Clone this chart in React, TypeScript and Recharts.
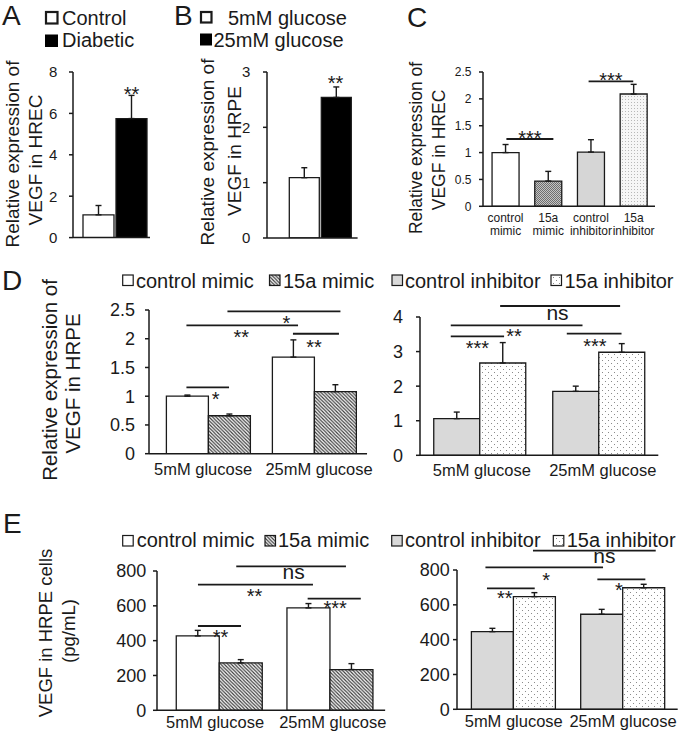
import { Bar, BarChart, Cell, ErrorBar, ReferenceLine, XAxis, YAxis } from "recharts";

const FONT = "'Liberation Sans', Arial, Helvetica, sans-serif";
const INK = "#1a1a1a";

// A: retina, control vs diabetic
const aSeries = ["Control", "Diabetic"];
const aValues = [1.1, 5.75];
const aErrors = [0.45, 1.12];
const aTicks = [0, 2, 4, 6, 8];

// B: HRPE under glucose
const bSeries = ["5mM glucose", "25mM glucose"];
const bValues = [1.09, 2.54];
const bErrors = [0.18, 0.19];
const bTicks = [0, 1, 2, 3];

// C: HREC transfection
const groupNames = ["control mimic", "15a mimic", "control inhibitor", "15a inhibitor"];
const cValues = [1.0, 0.47, 1.01, 2.09];
const cErrors = [0.15, 0.18, 0.23, 0.18];
const cTicks = [0, 0.5, 1, 1.5, 2, 2.5];

// D / E: glucose groups
const glucoseCats = ["5mM glucose", "25mM glucose"];
const dControlMimic = [1.0, 1.68];
const dControlMimicErr = [0.02, 0.3];
const d15aMimic = [0.66, 1.08];
const d15aMimicErr = [0.03, 0.12];
const dControlInh = [1.06, 1.85];
const dControlInhErr = [0.19, 0.15];
const d15aInh = [2.67, 2.98];
const d15aInhErr = [0.59, 0.25];
const dLeftTicks = [0, 0.5, 1, 1.5, 2, 2.5];
const dRightTicks = [0, 1, 2, 3, 4];

const eControlMimic = [427, 588];
const eControlMimicErr = [32, 25];
const e15aMimic = [272, 234];
const e15aMimicErr = [19, 34];
const eControlInh = [446, 546];
const eControlInhErr = [19, 28];
const e15aInh = [647, 698];
const e15aInhErr = [23, 20];
const eTicks = [0, 200, 400, 600, 800];

// significance marks: x in category-band units (0 = left edge of first group), y in data units
type Bracket = { x1: number; x2: number; y: number; text: string; dx: number; dy: number };

const aMarks: Bracket[] = [{ x1: 0.736, x2: 0.736, y: 7.16, text: "**", dx: 0, dy: 0 }];
const bMarks: Bracket[] = [{ x1: 0.703, x2: 0.703, y: 2.89, text: "**", dx: 0, dy: 0 }];
const cMarks: Bracket[] = [
  { x1: 0.52, x2: 1.62, y: 1.253, text: "***", dx: 0, dy: -6 },
  { x1: 2.445, x2: 3.49, y: 2.327, text: "***", dx: 0, dy: -6 }
];
const dLeftMarks: Bracket[] = [
  { x1: 0.296, x2: 0.698, y: 1.153, text: "*", dx: 8, dy: 7.3 },
  { x1: 0.296, x2: 1.349, y: 2.231, text: "**", dx: -1, dy: 7.3 },
  { x1: 0.683, x2: 1.749, y: 2.475, text: "*", dx: 2.5, dy: 7.3 },
  { x1: 1.301, x2: 1.735, y: 2.087, text: "**", dx: -2, dy: 8.3 }
];
const dRightMarks: Bracket[] = [
  { x1: 0.256, x2: 0.704, y: 3.442, text: "***", dx: 0, dy: 7.3 },
  { x1: 0.256, x2: 1.363, y: 3.76, text: "**", dx: -2.5, dy: 6 },
  { x1: 0.671, x2: 1.679, y: 4.318, text: "ns", dx: -2.6, dy: 8.3 },
  { x1: 1.231, x2: 1.691, y: 3.52, text: "***", dx: 0.7, dy: 7.7 }
];
const eLeftMarks: Bracket[] = [
  { x1: 0.309, x2: 0.698, y: 484, text: "**", dx: 1, dy: 6 },
  { x1: 0.309, x2: 1.348, y: 722, text: "**", dx: -1, dy: 6.7 },
  { x1: 0.655, x2: 1.646, y: 827, text: "ns", dx: 2.5, dy: 7.3 },
  { x1: 1.3, x2: 1.78, y: 641.5, text: "***", dx: 1, dy: 5 }
];
const eRightMarks: Bracket[] = [
  { x1: 0.255, x2: 0.692, y: 695, text: "**", dx: -6, dy: 5 },
  { x1: 0.241, x2: 1.317, y: 815.5, text: "*", dx: 2, dy: 7.7 },
  { x1: 0.676, x2: 1.799, y: 911, text: "ns", dx: 10, dy: 7.2 },
  { x1: 1.265, x2: 1.704, y: 746.6, text: "*", dx: -2.4, dy: 5.7 }
];

const mimicFills = ["#ffffff", "url(#hatch)"];
const inhFills = ["#d9d9d9", "url(#dots)"];
const cFills = ["#ffffff", "url(#hatchC)", "#d6d6d6", "url(#dotsC)"];

type PanelProps = {
  categories: string[];
  values: number[][];
  errors: number[][];
  fills: string[];
  cellFills?: string[];
  axisX: number;
  plotW: number;
  padL: number;
  yTop: number;
  yZero: number;
  ticks: number[];
  tickFont: number;
  tickGap: number;
  catGap: number | string;
  barGap: number;
  xFont?: number;
  xOffsets?: number[];
  xShift?: number[];
  wrap?: boolean;
  marks: Bracket[];
};

function Panel(p: PanelProps) {
  const rows = p.categories.map((c, i) => {
    const r: Record<string, unknown> = { cat: c };
    p.values.forEach((vals, s) => {
      r[`v${s}`] = vals[i];
      r[`e${s}`] = [0, p.errors[s][i]];
    });
    return r;
  });
  const top = 45;
  const bottom = 45;
  const yw = 50;
  const right = 14;
  const width = yw + p.plotW + right;
  const height = top + (p.yZero - p.yTop) + bottom;
  const band = (p.plotW - p.padL) / p.categories.length;

  const tick = p.xFont
    ? (t: any) => {
        const label = String(t.payload.value);
        const sp = label.indexOf(" ");
        const lines = p.wrap ? [label.slice(0, sp), label.slice(sp + 1)] : [label];
        const shift = p.xShift ? p.xShift[t.index] ?? 0 : 0;
        return (
          <text textAnchor="middle" fontSize={p.xFont} fontFamily={FONT} fill={INK}>
            {lines.map((l, i) => (
              <tspan key={i} x={t.x + shift} y={t.y + (p.xOffsets as number[])[i]}>
                {l}
              </tspan>
            ))}
          </text>
        );
      }
    : false;

  return (
    <div style={{ position: "absolute", left: p.axisX - yw, top: p.yTop - top }}>
      <BarChart
        width={width}
        height={height}
        data={rows}
        margin={{ top, right, bottom: 0, left: 0 }}
        barCategoryGap={p.catGap}
        barGap={p.barGap}
      >
        <XAxis
          dataKey="cat"
          padding={{ left: p.padL, right: 0 }}
          tickLine={false}
          tickSize={0}
          tickMargin={0}
          interval={0}
          height={bottom}
          axisLine={{ stroke: INK, strokeWidth: 1.5 }}
          tick={tick}
        />
        <YAxis
          domain={[0, p.ticks[p.ticks.length - 1]]}
          ticks={p.ticks}
          interval={0}
          width={yw}
          tickSize={4}
          tickMargin={p.tickGap - 4}
          allowDataOverflow
          axisLine={{ stroke: INK, strokeWidth: 1.5 }}
          tickLine={{ stroke: INK, strokeWidth: 1.5 }}
          tick={{ fontSize: p.tickFont, fill: INK, fontFamily: FONT }}
        />
        {p.values.map((_, s) => (
          <Bar
            key={s}
            dataKey={`v${s}`}
            fill={p.fills[s]}
            stroke={INK}
            strokeWidth={1.3}
            isAnimationActive={false}
          >
            {p.cellFills && p.cellFills.map((f, i) => <Cell key={i} fill={f} />)}
            <ErrorBar dataKey={`e${s}`} width={3} stroke={INK} strokeWidth={1.4} direction="y" isAnimationActive={false} />
          </Bar>
        ))}
        {p.marks.map((b, i) => (
          <ReferenceLine
            key={i}
            ifOverflow="visible"
            position="middle"
            segment={[
              { x: p.categories[0], y: b.y },
              { x: p.categories[0], y: b.y }
            ]}
            shape={(lp: any) => {
              // lp.x1 is the centre of the first group, as placed by the category scale
              const start = lp.x1 - band / 2;
              const x1 = start + b.x1 * band;
              const x2 = start + b.x2 * band;
              const size = b.text === "ns" ? 21 : 20;
              const lift = b.text === "ns" ? 0.26 : 0.58;
              return (
                <g>
                  {x2 - x1 > 1 && <line x1={x1} y1={lp.y1} x2={x2} y2={lp.y1} stroke={INK} strokeWidth={1.8} />}
                  <text x={(x1 + x2) / 2 + b.dx} y={lp.y1 + b.dy + lift * size} textAnchor="middle" fontSize={size} fontFamily={FONT} fill={INK}>
                    {b.text}
                  </text>
                </g>
              );
            }}
          />
        ))}
      </BarChart>
    </div>
  );
}

function Patterns() {
  return (
    <svg width={0} height={0} style={{ position: "absolute" }}>
      <defs>
        <pattern id="hatch" width={3.5} height={3.5} patternUnits="userSpaceOnUse">
          <rect width={3.5} height={3.5} fill="#ffffff" />
          <path d="M-1,-1 L4.5,4.5 M2.5,-1 L4.5,1 M-1,2.5 L1,4.5" stroke="#3c3c3c" strokeWidth={1.2} />
        </pattern>
        <pattern id="dots" width={6} height={6} patternUnits="userSpaceOnUse">
          <rect width={6} height={6} fill="#ffffff" />
          <rect x={1} y={1} width={1} height={1} fill="#8a8a8a" />
          <rect x={4} y={4} width={1} height={1} fill="#8a8a8a" />
        </pattern>
        <pattern id="hatchC" width={2} height={2} patternUnits="userSpaceOnUse">
          <rect width={2} height={2} fill="#c4c4c4" />
          <rect width={1} height={1} fill="#6e6e6e" />
          <rect x={1} y={1} width={1} height={1} fill="#6e6e6e" />
        </pattern>
        <pattern id="dotsC" width={3} height={3} patternUnits="userSpaceOnUse">
          <rect width={3} height={3} fill="#f6f6f6" />
          <rect width={1} height={1} fill="#b8b8b8" />
        </pattern>
      </defs>
    </svg>
  );
}

function RotLabel({ x, y, size, text }: { x: number; y: number; size: number; text: string }) {
  return (
    <text x={x} y={y} transform={`rotate(-90 ${x} ${y})`} textAnchor="middle" fontSize={size} fontFamily={FONT} fill={INK}>
      {text}
    </text>
  );
}

function Legend4({ base, sqTop, xs, txs }: { base: number; sqTop: number; xs: number[]; txs: number[] }) {
  const fills = [...mimicFills, ...inhFills];
  return (
    <g>
      {groupNames.map((name, i) => (
        <g key={name}>
          <rect x={xs[i]} y={sqTop} width={10.5} height={10.5} fill={fills[i]} stroke={INK} strokeWidth={1.2} />
          <text x={txs[i]} y={base} fontSize={20} fontFamily={FONT} fill={INK}>
            {name}
          </text>
        </g>
      ))}
    </g>
  );
}

function Overlay() {
  const letter = (x: number, y: number, t: string) => (
    <text x={x} y={y} fontSize={28} fontFamily={FONT} fill={INK}>
      {t}
    </text>
  );
  return (
    <svg width={682} height={734} style={{ position: "absolute", left: 0, top: 0, pointerEvents: "none" }}>
      {letter(2, 25, "A")}
      {letter(174, 25, "B")}
      {letter(407, 27, "C")}
      {letter(2, 290, "D")}
      {letter(3, 533, "E")}

      <rect x={46} y={12} width={11.5} height={11.5} fill="#ffffff" stroke={INK} strokeWidth={2.2} />
      <text x={62} y={25} fontSize={20} fontFamily={FONT} fill={INK}>{aSeries[0]}</text>
      <rect x={45} y={34.5} width={13} height={12.5} fill="#000000" />
      <text x={62} y={46.7} fontSize={20} fontFamily={FONT} fill={INK}>{aSeries[1]}</text>

      <rect x={201} y={12} width={10.5} height={10.5} fill="#ffffff" stroke={INK} strokeWidth={2.2} />
      <text x={228} y={25} fontSize={20} fontFamily={FONT} fill={INK}>{bSeries[0]}</text>
      <rect x={200} y={33.5} width={12} height={12} fill="#000000" />
      <text x={213.5} y={46.7} fontSize={20} fontFamily={FONT} fill={INK}>{bSeries[1]}</text>

      <RotLabel x={19} y={154} size={19} text="Relative expression of" />
      <RotLabel x={42} y={160} size={19} text="VEGF in HREC" />
      <RotLabel x={214} y={152} size={19} text="Relative expression of" />
      <RotLabel x={241} y={151} size={19} text="VEGF in HRPE" />
      <RotLabel x={422.4} y={148} size={17.5} text="Relative expression of" />
      <RotLabel x={445} y={150} size={17.5} text="VEGF in HREC" />
      <RotLabel x={57} y={380} size={20.5} text="Relative expression of" />
      <RotLabel x={80} y={383.5} size={20.5} text="VEGF in HRPE" />
      <RotLabel x={51.5} y={633} size={18.5} text="VEGF in HRPE cells" />
      <RotLabel x={75} y={631} size={18.5} text="(pg/mL)" />

      <Legend4 base={288} sqTop={275} xs={[122.7, 269.5, 392, 551]} txs={[136, 283, 405, 564.5]} />
      <Legend4 base={546.5} sqTop={535.5} xs={[122.7, 265, 391.7, 553.3]} txs={[136.7, 278, 405, 566.7]} />
    </svg>
  );
}

export default function App() {
  return (
    <div style={{ position: "absolute", left: 0, top: 0, width: 682, height: 734, background: "#ffffff", fontFamily: FONT, overflow: "hidden" }}>
      <Patterns />
      <Panel
        categories={["HREC"]}
        values={[[aValues[0]], [aValues[1]]]}
        errors={[[aErrors[0]], [aErrors[1]]]}
        fills={["#ffffff", "#000000"]}
        axisX={72.7}
        plotW={77}
        padL={7}
        yTop={71.7}
        yZero={237.3}
        ticks={aTicks}
        tickFont={15}
        tickGap={15.7}
        catGap={3}
        barGap={2}
        marks={aMarks}
      />
      <Panel
        categories={["HRPE"]}
        values={[[bValues[0]], [bValues[1]]]}
        errors={[[bErrors[0]], [bErrors[1]]]}
        fills={["#ffffff", "#000000"]}
        axisX={266.7}
        plotW={90.6}
        padL={16.3}
        yTop={72.3}
        yZero={238.3}
        ticks={bTicks}
        tickFont={15}
        tickGap={16.7}
        catGap={6}
        barGap={2}
        marks={bMarks}
      />
      <Panel
        categories={groupNames}
        values={[cValues]}
        errors={[cErrors]}
        fills={["#ffffff"]}
        cellFills={cFills}
        axisX={483.3}
        plotW={172}
        padL={1.2}
        yTop={71.7}
        yZero={206}
        ticks={cTicks}
        tickFont={12}
        tickGap={11.6}
        catGap="18.4%"
        barGap={0}
        xFont={12}
        xOffsets={[15.5, 29]}
        wrap
        marks={cMarks}
      />
      <Panel
        categories={glucoseCats}
        values={[dControlMimic, d15aMimic]}
        errors={[dControlMimicErr, d15aMimicErr]}
        fills={mimicFills}
        axisX={149.3}
        plotW={218.05}
        padL={6.05}
        yTop={310.3}
        yZero={454}
        ticks={dLeftTicks}
        tickFont={18}
        tickGap={14}
        catGap="10.7%"
        barGap={0}
        xFont={16.5}
        xOffsets={[21]}
        xShift={[-5, 5]}
        marks={dLeftMarks}
      />
      <Panel
        categories={glucoseCats}
        values={[dControlInh, d15aInh]}
        errors={[dControlInhErr, d15aInhErr]}
        fills={inhFills}
        axisX={419.5}
        plotW={238.3}
        padL={0.3}
        yTop={316.7}
        yZero={455}
        ticks={dRightTicks}
        tickFont={18}
        tickGap={17}
        catGap="11.3%"
        barGap={0}
        xFont={16.5}
        xOffsets={[21]}
        xShift={[2, 4]}
        marks={dRightMarks}
      />
      <Panel
        categories={glucoseCats}
        values={[eControlMimic, e15aMimic]}
        errors={[eControlMimicErr, e15aMimicErr]}
        fills={mimicFills}
        axisX={156.7}
        plotW={228.15}
        padL={6.75}
        yTop={570.7}
        yZero={710}
        ticks={eTicks}
        tickFont={18}
        tickGap={10.7}
        catGap="11.3%"
        barGap={0}
        xFont={16.5}
        xOffsets={[18]}
        xShift={[-4, 3]}
        marks={eLeftMarks}
      />
      <Panel
        categories={glucoseCats}
        values={[eControlInh, e15aInh]}
        errors={[eControlInhErr, e15aInhErr]}
        fills={inhFills}
        axisX={457.3}
        plotW={220.7}
        padL={2.1}
        yTop={570}
        yZero={709.3}
        ticks={eTicks}
        tickFont={18}
        tickGap={7.3}
        catGap="11.25%"
        barGap={0}
        xFont={16.5}
        xOffsets={[18]}
        marks={eRightMarks}
      />
      <Overlay />
    </div>
  );
}
